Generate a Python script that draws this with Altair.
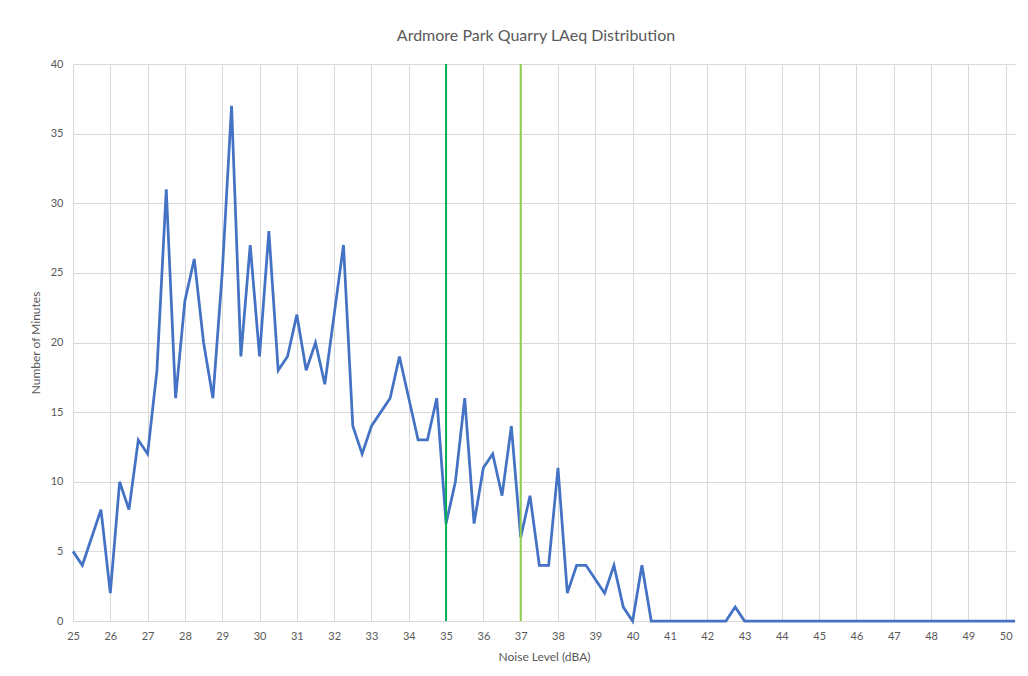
import altair as alt
import pandas as pd

# Category axis: noise level bins (dBA), 0.25 dB steps from 25.00 to 50.25
minutes = [
    5, 4, 6, 8, 2, 10, 8, 13, 12, 18, 31, 16,      # 25.00 - 27.75
    23, 26, 20, 16, 25, 37, 19, 27, 19, 28, 18, 19,  # 28.00 - 30.75
    22, 18, 20, 17, 22, 27, 14, 12, 14, 15, 16, 19,  # 31.00 - 33.75
    16, 13, 13, 16, 7, 10, 16, 7, 11, 12, 9, 14,    # 34.00 - 36.75
    6, 9, 4, 4, 11, 2, 4, 4, 3, 2, 4, 1,            # 37.00 - 39.75
    0, 4, 0, 0, 0, 0, 0, 0, 0, 0, 0, 1,             # 40.00 - 42.75
    0, 0, 0, 0, 0, 0, 0, 0, 0, 0, 0, 0,             # 43.00 - 45.75
    0, 0, 0, 0, 0, 0, 0, 0, 0, 0, 0, 0,             # 46.00 - 48.75
    0, 0, 0, 0, 0, 0,                               # 49.00 - 50.25
]
noise_levels = [25 + 0.25 * i for i in range(len(minutes))]

grid_values = [25 + 0.5 * i for i in range(51)]
y_values = [0, 5, 10, 15, 20, 25, 30, 35, 40]

threshold_levels = [35, 37]
threshold_colors = ["#00b050", "#92d050"]

df = pd.DataFrame({"noise": noise_levels, "minutes": minutes})
thr = pd.DataFrame({"noise": threshold_levels, "color": threshold_colors})

FONT = "Lato"
TXT = "#595959"
GRID = "#d9d9d9"

x_axis = alt.Axis(
    values=grid_values,
    labelExpr="datum.value % 1 === 0 ? datum.label : ''",
    format="d",
    grid=True,
    gridColor=GRID,
    gridWidth=1,
    ticks=False,
    domainColor=GRID,
    labelOverlap=False,
    labelFlush=False,
    labelPadding=9,
    labelFontSize=11,
    labelColor=TXT,
    labelFont=FONT,
    title="Noise Level (dBA)",
    titleFontSize=12,
    titleFontWeight="normal",
    titleColor=TXT,
    titleFont=FONT,
    titlePadding=10,
)
x_scale = alt.Scale(domain=[25, 50.25], nice=False, zero=False)

y_enc = alt.Y(
    "minutes:Q",
    scale=alt.Scale(domain=[0, 40], nice=False),
    axis=alt.Axis(
        values=y_values,
        grid=True,
        gridColor=GRID,
        gridWidth=1,
        domain=False,
        ticks=False,
        labelPadding=10,
        labelFontSize=11,
        labelColor=TXT,
        labelFont=FONT,
        title="Number of Minutes",
        titleFontSize=12,
        titleFontWeight="normal",
        titleColor=TXT,
        titleFont=FONT,
        titleX=-31,
    ),
)

line = alt.Chart(df).mark_line(color="#4472c4", strokeWidth=2.75, strokeJoin="miter").encode(
    x=alt.X("noise:Q", scale=x_scale, axis=x_axis), y=y_enc
)

rules = alt.Chart(thr).mark_rule(strokeWidth=2).encode(
    x=alt.X("noise:Q", scale=x_scale, axis=x_axis),
    color=alt.Color("color:N", scale=None),
)

chart = (
    alt.layer(line, rules)
    .properties(
        width=942,
        height=557,
        autosize=alt.AutoSizeParams(type="none"),
        padding={"left": 65, "top": 56, "right": 5, "bottom": 50},
        title=alt.TitleParams(
            "Ardmore Park Quarry LAeq Distribution",
            font=FONT,
            fontSize=16,
            fontWeight="normal",
            color=TXT,
            anchor="middle",
            frame="group",
            offset=14,
            dx=-8,
        ),
        background="white",
    )
    .configure_view(stroke=None)
)

chart.save("out.html", embed_options={"renderer": "svg", "actions": False})
